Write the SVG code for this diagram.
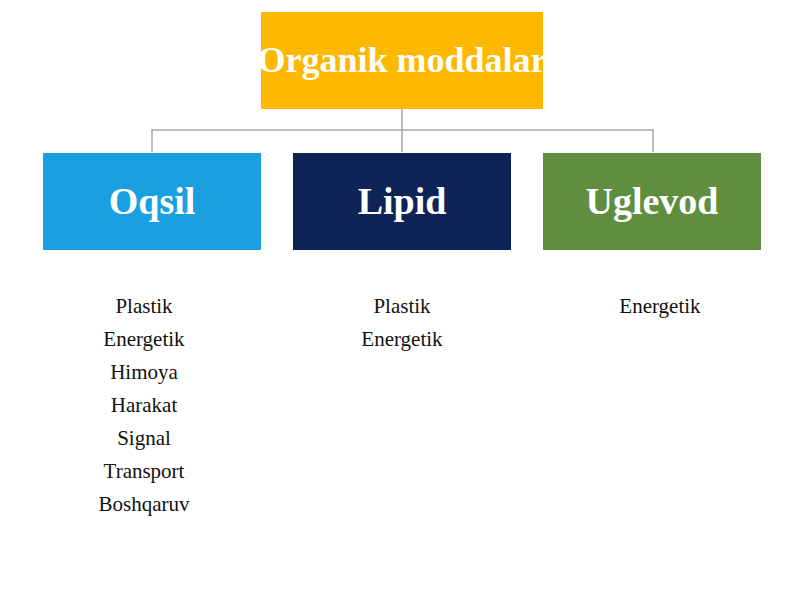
<svg xmlns="http://www.w3.org/2000/svg" width="800" height="600" viewBox="0 0 800 600">
<style>
.t{font-family:"Liberation Serif","Times New Roman",serif;fill:#fff;font-weight:bold;text-anchor:middle}
.l{font-family:"Liberation Serif","Times New Roman",serif;fill:#111;font-size:21px;text-anchor:middle}
.c{fill:none;stroke:#a6a6a6;stroke-width:1.5}
</style>
<rect width="800" height="600" fill="#fff"/>
<g id="connectors">
<path class="c" d="M402 109V130M152 152V130H653V152M402 130V152"/>
</g>
<g id="root"><rect x="261" y="12" width="282" height="97" fill="#FFB800"/><text class="t" x="402" y="72" font-size="36">Organik moddalar</text></g>
<g id="oqsil"><rect x="43" y="153" width="218" height="97" fill="#1A9FE0"/><text class="t" x="152" y="214" font-size="38">Oqsil</text></g>
<g id="lipid"><rect x="293" y="153" width="218" height="97" fill="#0E2457"/><text class="t" x="402" y="214" font-size="38">Lipid</text></g>
<g id="uglevod"><rect x="543" y="153" width="218" height="97" fill="#5E8E3E"/><text class="t" x="652" y="214" font-size="38">Uglevod</text></g>
<g id="oqsil-list"><text class="l" x="144" y="313">Plastik</text><text class="l" x="144" y="346">Energetik</text><text class="l" x="144" y="379">Himoya</text><text class="l" x="144" y="412">Harakat</text><text class="l" x="144" y="445">Signal</text><text class="l" x="144" y="478">Transport</text><text class="l" x="144" y="511">Boshqaruv</text></g>
<g id="lipid-list"><text class="l" x="402" y="313">Plastik</text><text class="l" x="402" y="346">Energetik</text></g>
<g id="uglevod-list"><text class="l" x="660" y="313">Energetik</text></g>
</svg>
